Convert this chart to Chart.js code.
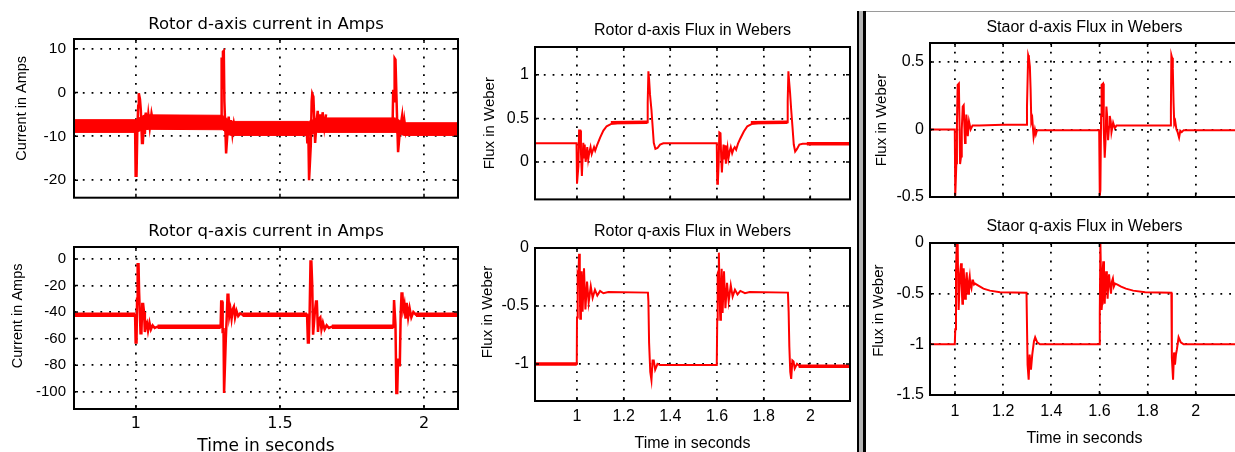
<!DOCTYPE html>
<html>
<head>
<meta charset="utf-8">
<script src="https://cdn.jsdelivr.net/npm/chart.js@4.4.0/dist/chart.umd.min.js"></script>
<style>
  body { margin: 0; width: 1235px; height: 452px; overflow: hidden; background: #fff; position: relative; }
  canvas { position: absolute; }
  #divider { position: absolute; left: 857px; top: 11px; width: 4px; height: 441px;
             background: #b4b4b4; border-left: 2px solid #000; border-right: 3px solid #000; }
  #topRule { position: absolute; left: 866px; top: 11px; width: 369px; height: 1px; background: #9a9a9a; }
</style>
</head>
<body>
<canvas id="rotorId" width="470" height="215" style="left:0;top:0"></canvas>
<canvas id="rotorIq" width="470" height="250" style="left:0;top:215px"></canvas>
<canvas id="rotorPsiD" width="385" height="215" style="left:470px;top:0"></canvas>
<canvas id="rotorPsiQ" width="385" height="250" style="left:470px;top:215px"></canvas>
<div id="divider"></div>
<div id="topRule"></div>
<canvas id="statorPsiD" width="380" height="215" style="left:868px;top:0"></canvas>
<canvas id="statorPsiQ" width="380" height="250" style="left:868px;top:215px"></canvas>
<script>
// ---- rotor d-axis current (A): ripple band edges and switching transients ----
const idBandTime = [0.785, 1.0, 1.03, 1.30, 1.33, 1.60, 1.63, 1.90, 1.93, 2.118];
const idBandHigh = [-6.2, -6.2, -5.1, -5.2, -6.6, -6.6, -5.8, -5.8, -6.9, -6.9];
const idBandLow  = [-9.1, -9.1, -8.4, -8.5, -9.8, -9.8, -9.1, -9.1, -9.8, -9.8];
const idSpikeTime = [
  0.997, 0.999, 1.002, 1.005, 1.008, 1.010, 1.014, 1.017, 1.021, 1.024, 1.027, 1.031, 1.034, 1.038, 1.043, 1.048, 1.054, 1.06, 1.1,
  1.296, 1.2975, 1.300, 1.302, 1.305, 1.307, 1.310, 1.313, 1.316, 1.319, 1.322, 1.326, 1.330, 1.335, 1.340, 1.346, 1.4,
  1.592, 1.595, 1.598, 1.601, 1.604, 1.607, 1.610, 1.612, 1.616, 1.619, 1.622, 1.625, 1.628, 1.631, 1.635, 1.639, 1.644, 1.648, 1.654, 1.66, 1.7,
  1.891, 1.893, 1.896, 1.898, 1.901, 1.904, 1.907, 1.910, 1.913, 1.916, 1.920, 1.924, 1.928, 1.932, 1.937, 1.943
];
const idSpikeVal = [
  -7.5, -19, -19, -8, -3, -0.2, -1.5, -4, -11.5, -11.5, -7, -9.5, -4.6, -8.5, -5, -8, -4.8, -7, null,
  -7, 8, 1, 9.3, 9.5, -2, -7.5, -13.9, -13.9, -8, -5.5, -9.8, -6.3, -9.5, -7, -9, null,
  -7.5, -11.6, -7, -20, -20, -12, -2, -0.3, -1, -6, -11.5, -11.5, -6, -4.2, -9, -5, -8.5, -4.5, -8, -5, null,
  -7, 0.6, -2, 7.8, 7.5, 0, -7, -13.6, -13.6, -9, -7, -5.3, -9.5, -6.5, -9, -7.5
];

// ---- rotor q-axis current (A) ----
const iqTime = [
  0.785, 0.997, 0.999, 1.002, 1.004, 1.006, 1.009, 1.011, 1.014, 1.016, 1.019, 1.022, 1.025, 1.028, 1.031, 1.034, 1.038, 1.042, 1.047, 1.052, 1.058, 1.065, 1.075,
  1.294, 1.296, 1.299, 1.301, 1.304, 1.306, 1.309, 1.312, 1.315, 1.318, 1.321, 1.324, 1.328, 1.332, 1.336, 1.340, 1.344, 1.349, 1.355, 1.362, 1.37,
  1.594, 1.597, 1.600, 1.603, 1.606, 1.609, 1.612, 1.615, 1.618, 1.621, 1.625, 1.628, 1.632, 1.636, 1.640, 1.644, 1.649, 1.655, 1.662, 1.67, 1.68,
  1.894, 1.896, 1.899, 1.901, 1.904, 1.907, 1.910, 1.913, 1.916, 1.919, 1.922, 1.925, 1.928, 1.932, 1.936, 1.940, 1.945, 1.950, 1.956, 1.963, 1.972, 2.118
];
const iqVal = [
  -42, -42, -63, -63, -30, -4, -4, -25, -25, -56, -56, -34, -34, -40, -55, -50, -48, -54, -48, -53, -50, -52, -51,
  -51, -32, -32, -56, -52, -101, -101, -60, -45, -27, -27, -43, -38, -45, -38, -36, -44, -39, -43, -41, -42,
  -42, -63, -63, -40, -2, -2, -20, -57, -57, -40, -32, -32, -55, -45, -44, -53, -48, -53, -50, -52, -51,
  -51, -31, -31, -50, -101, -101, -75, -80, -80, -42, -26, -26, -38, -34, -45, -33, -44, -37, -44, -40, -42, -42
];
const iqLevelTime = [0.785, 0.997, 0.997, 1.075, 1.294, 1.294, 1.37, 1.594, 1.594, 1.68, 1.894, 1.894, 1.972, 2.118];
const iqLevelVal  = [-42, -42, null, -51, -51, null, -42, -42, null, -51, -51, null, -42, -42];

// ---- rotor d-axis flux (Wb) ----
const psiRdTime = [
  0.82, 0.998, 1.0, 1.003, 1.006, 1.009, 1.014, 1.017, 1.021, 1.024, 1.027, 1.030, 1.033, 1.037, 1.041, 1.044, 1.048, 1.052, 1.058, 1.063, 1.069, 1.073, 1.078,
  1.087, 1.099, 1.113, 1.127, 1.149, 1.199, 1.302, 1.303, 1.306, 1.309, 1.313, 1.319, 1.323, 1.329, 1.336, 1.345, 1.356, 1.37, 1.599,
  1.601, 1.604, 1.607, 1.610, 1.615, 1.618, 1.621, 1.625, 1.628, 1.631, 1.635, 1.638, 1.642, 1.645, 1.649, 1.654, 1.659, 1.665, 1.671, 1.676, 1.682,
  1.69, 1.70, 1.715, 1.73, 1.752, 1.80, 1.902, 1.903, 1.906, 1.909, 1.913, 1.918, 1.923, 1.929, 1.935, 1.943, 1.953, 1.967, 2.17
];
const psiRdVal = [
  0.215, 0.215, -0.25, -0.25, -0.05, 0.36, 0.36, 0.1, -0.16, 0.05, 0.22, 0.05, 0.2, 0.0, 0.08, 0.17, 0.03, 0.1, 0.17, 0.09, 0.14, 0.17, 0.13,
  0.2, 0.28, 0.36, 0.41, 0.44, 0.455, 0.455, 0.68, 1.04, 0.95, 0.77, 0.6, 0.45, 0.22, 0.15, 0.16, 0.2, 0.215, 0.215,
  -0.25, -0.22, -0.02, 0.34, 0.33, 0.05, -0.12, 0.08, 0.2, 0.03, 0.19, -0.02, 0.1, 0.16, 0.04, 0.12, 0.17, 0.1, 0.15, 0.17, 0.14,
  0.21, 0.27, 0.35, 0.41, 0.44, 0.455, 0.455, 0.7, 1.04, 0.93, 0.8, 0.6, 0.42, 0.2, 0.12, 0.15, 0.2, 0.21, 0.21
];
const psiRdRippleTime = [1.145, 1.302, 1.302, 1.745, 1.902, 1.902, 1.985, 2.17];
const psiRdRippleVal  = [0.45, 0.455, null, 0.45, 0.455, null, 0.21, 0.21];

// ---- rotor q-axis flux (Wb) ----
const psiRqTime = [
  0.82, 0.999, 1.0, 1.003, 1.006, 1.009, 1.012, 1.014, 1.017, 1.020, 1.024, 1.030, 1.036, 1.043, 1.05, 1.059, 1.067, 1.077, 1.087, 1.099, 1.113, 1.134,
  1.304, 1.306, 1.309, 1.314, 1.319, 1.324, 1.329, 1.335, 1.345, 1.356, 1.599,
  1.601, 1.603, 1.606, 1.608, 1.611, 1.614, 1.617, 1.620, 1.624, 1.630, 1.636, 1.643, 1.65, 1.659, 1.667, 1.677, 1.688, 1.70, 1.72, 1.74,
  1.904, 1.907, 1.910, 1.914, 1.918, 1.923, 1.928, 1.933, 1.943, 1.955, 2.17
];
const psiRqVal = [
  -1.0, -1.0, -0.6, -0.23, -0.25, -0.05, -0.35, -0.61, -0.4, -0.2, -0.55, -0.175, -0.53, -0.29, -0.47, -0.33, -0.43, -0.36, -0.41, -0.37, -0.39, -0.38,
  -0.385, -0.46, -0.82, -1.07, -1.14, -0.97, -0.97, -1.05, -1.0, -1.01, -1.01,
  -0.62, -0.22, -0.2, -0.04, -0.4, -0.62, -0.35, -0.18, -0.56, -0.2, -0.52, -0.3, -0.46, -0.32, -0.42, -0.36, -0.4, -0.37, -0.39, -0.38,
  -0.385, -0.55, -0.85, -1.07, -1.13, -0.97, -0.98, -1.04, -1.0, -1.02, -1.02
];
const psiRqRippleTime = [0.82, 0.999, 0.999, 1.95, 2.17];
const psiRqRippleVal  = [-1.0, -1.0, null, -1.02, -1.02];

// ---- stator d-axis flux (Wb) ----
const psiSdTime = [
  0.896, 0.999, 1.001, 1.003, 1.0055, 1.008, 1.011, 1.016, 1.019, 1.021, 1.025, 1.028, 1.032, 1.036, 1.039, 1.0415, 1.044, 1.047, 1.05, 1.053, 1.058, 1.065, 1.073,
  1.1, 1.2, 1.296, 1.299, 1.302, 1.304, 1.307, 1.311, 1.314, 1.317, 1.321, 1.3265, 1.332, 1.336, 1.34, 1.347, 1.599,
  1.6015, 1.604, 1.607, 1.609, 1.615, 1.618, 1.622, 1.625, 1.629, 1.632, 1.636, 1.64, 1.643, 1.647, 1.65, 1.657, 1.664, 1.671,
  1.75, 1.895, 1.897, 1.899, 1.902, 1.905, 1.908, 1.911, 1.915, 1.92, 1.925, 1.931, 1.936, 1.942, 1.95, 2.18
];
const psiSdVal = [
  0.0, 0.0, -0.49, -0.49, -0.25, 0.05, 0.33, 0.34, 0.0, -0.256, -0.2, 0.0, 0.17, 0.18, 0.02, -0.1, -0.05, 0.11, 0.05, -0.05, 0.06, 0.0, 0.03,
  0.03, 0.035, 0.035, 0.166, 0.4, 0.55, 0.53, 0.465, 0.3, 0.055, 0.08, -0.057, 0.0, -0.035, -0.01, -0.005, -0.005,
  -0.49, -0.45, 0.1, 0.33, 0.34, 0.0, -0.21, -0.1, 0.17, 0.1, -0.08, 0.02, 0.1, 0.06, -0.02, 0.05, 0.01, 0.03,
  0.03, 0.03, 0.15, 0.55, 0.53, 0.45, 0.2, 0.04, 0.06, 0.0, -0.02, -0.06, -0.01, -0.02, -0.005, -0.005
];

// ---- stator q-axis flux (Wb) ----
const psiSqTime = [
  0.896, 0.999, 1.001, 1.004, 1.007, 1.011, 1.013, 1.015, 1.018, 1.021, 1.025, 1.028, 1.0305, 1.033, 1.036, 1.039, 1.0415, 1.045, 1.0485, 1.051, 1.054, 1.058,
  1.061, 1.064, 1.068, 1.072, 1.075, 1.079, 1.083, 1.097, 1.118, 1.145, 1.187, 1.297, 1.3015, 1.306, 1.31, 1.3155, 1.321, 1.328, 1.333, 1.3415, 1.353, 1.6,
  1.6015, 1.604, 1.606, 1.609, 1.611, 1.613, 1.616, 1.619, 1.622, 1.625, 1.628, 1.631, 1.634, 1.637, 1.64, 1.644, 1.648, 1.652, 1.656, 1.66, 1.665, 1.675,
  1.69, 1.71, 1.74, 1.79, 1.899, 1.901, 1.906, 1.91, 1.914, 1.918, 1.922, 1.929, 1.938, 1.95, 2.18
];
const psiSqVal = [
  -1.0, -1.0, -0.85, -0.3, 0.0, 0.0, -0.4, -0.66, -0.45, -0.3, -0.2, -0.45, -0.6, -0.4, -0.25, -0.42, -0.55, -0.4, -0.29, -0.42, -0.5, -0.38,
  -0.33, -0.42, -0.45, -0.37, -0.37, -0.41, -0.4, -0.42, -0.45, -0.47, -0.485, -0.49, -1.2, -1.35, -1.1, -1.25, -1.1, -0.97, -0.93, -0.98, -1.0, -1.0,
  -0.7, 0.0, 0.0, -0.66, -0.6, -0.3, -0.18, -0.45, -0.6, -0.4, -0.28, -0.4, -0.55, -0.4, -0.31, -0.42, -0.5, -0.38, -0.35, -0.43, -0.4, -0.41,
  -0.43, -0.45, -0.47, -0.485, -0.49, -1.13, -1.35, -1.08, -1.2, -1.1, -1.05, -0.93, -0.98, -1.0, -1.0
];

const RED = '#ff0000';
const xy = (t, v) => t.map((x, i) => ({ x, y: v[i] }));
const fmt = v => String(Number(v.toFixed(2)));

// box round the axes with inward tick marks on all four sides
const frame = {
  id: 'frame',
  afterDraw(chart) {
    const { ctx, chartArea: a, scales: { x, y } } = chart;
    ctx.save();
    ctx.strokeStyle = '#000';
    ctx.lineWidth = 1.5;
    ctx.beginPath();
    x.ticks.forEach(t => {
      const p = x.getPixelForValue(t.value);
      ctx.moveTo(p, a.top); ctx.lineTo(p, a.top + 4);
      ctx.moveTo(p, a.bottom); ctx.lineTo(p, a.bottom - 4);
    });
    y.ticks.forEach(t => {
      const p = y.getPixelForValue(t.value);
      ctx.moveTo(a.left, p); ctx.lineTo(a.left + 4, p);
      ctx.moveTo(a.right, p); ctx.lineTo(a.right - 4, p);
    });
    ctx.stroke();
    ctx.lineWidth = 2;
    ctx.strokeRect(a.left, a.top, a.right - a.left, a.bottom - a.top);
    ctx.restore();
  }
};

function drawPanel(id, c) {
  const grid = { color: '#000', lineWidth: 1.8, drawTicks: false };
  const border = { display: false, dash: [1.8, 7] };
  // leading blanks lift the rotated y label a little above the axis centre
  const yLabel = ' '.repeat(c.yTitleLift || 0) + c.yTitle;
  return new Chart(document.getElementById(id), {
    type: 'line',
    data: { datasets: c.datasets },
    options: {
      responsive: false,
      animation: false,
      events: [],
      layout: { padding: { right: c.padRight } },
      elements: { point: { radius: 0 }, line: { tension: 0, borderColor: RED } },
      plugins: {
        legend: { display: false },
        tooltip: { enabled: false },
        title: { display: true, text: c.title, fullSize: false, color: '#000', font: c.titleFont, padding: c.titlePad }
      },
      scales: {
        x: {
          type: 'linear', min: c.xRange[0], max: c.xRange[1],
          afterFit: s => { s.height = c.xHeight; },
          ticks: { display: !!c.xTitle, stepSize: c.xStep, includeBounds: false, autoSkip: false, maxRotation: 0,
                   color: '#000', font: c.xTickFont, padding: c.xTickPad, callback: fmt },
          grid, border,
          title: { display: !!c.xTitle, text: c.xTitle, color: '#000', font: c.xTitleFont, padding: { top: 0, bottom: c.xTitlePad } }
        },
        y: {
          type: 'linear', min: c.yRange[0], max: c.yRange[1],
          afterFit: s => { s.width = c.yWidth; },
          ticks: { stepSize: c.yStep, includeBounds: false, autoSkip: false,
                   color: '#000', font: c.yTickFont, padding: c.yTickPad, callback: fmt },
          grid, border,
          title: { display: true, text: yLabel, color: '#000', font: c.yTitleFont, padding: { top: c.yTitlePad, bottom: 0 } }
        }
      }
    },
    plugins: [frame]
  });
}

const dejavu = size => ({ family: 'DejaVu Sans', size, weight: 'normal' });
const arial = size => ({ family: 'Liberation Sans', size, weight: 'normal' });

drawPanel('rotorId', {
  title: 'Rotor d-axis current in Amps', titleFont: dejavu(16.5), titlePad: { top: 14.6, bottom: 4.6 },
  xRange: [0.785, 2.118], xStep: 0.5, xHeight: 13,
  yRange: [-24, 12.2], yStep: 10, yWidth: 74, yTickFont: arial(15.5), yTickPad: 8,
  yTitle: 'Current in Amps', yTitleFont: arial(14.5), yTitlePad: 13.3, yTitleLift: 5, padRight: 12,
  datasets: [
    { data: xy(idBandTime, idBandHigh), borderColor: RED, backgroundColor: RED, borderWidth: 1, fill: '+1' },
    { data: xy(idBandTime, idBandLow), borderColor: RED, borderWidth: 1, fill: false },
    { data: xy(idSpikeTime, idSpikeVal), borderColor: RED, borderWidth: 2.5, fill: false, spanGaps: false }
  ]
});

drawPanel('rotorIq', {
  title: 'Rotor q-axis current in Amps', titleFont: dejavu(16.5), titlePad: { top: 6.4, bottom: 5.8 },
  xRange: [0.785, 2.118], xStep: 0.5, xHeight: 56, xTickFont: dejavu(16), xTickPad: 4.9,
  xTitle: 'Time in seconds', xTitleFont: dejavu(17), xTitlePad: 8.1,
  yRange: [-113, 9], yStep: 20, yWidth: 74, yTickFont: arial(15), yTickPad: 8,
  yTitle: 'Current in Amps', yTitleFont: arial(14.5), yTitlePad: 9.3, yTitleLift: 6, padRight: 12,
  datasets: [
    { data: xy(iqLevelTime, iqLevelVal), borderColor: RED, borderWidth: 4.5, fill: false, spanGaps: false },
    { data: xy(iqTime, iqVal), borderColor: RED, borderWidth: 2.5, fill: false }
  ]
});

drawPanel('rotorPsiD', {
  title: 'Rotor d-axis Flux in Webers', titleFont: arial(16), titlePad: { top: 20.9, bottom: 6.9 },
  xRange: [0.82, 2.17], xStep: 0.2, xHeight: 14,
  yRange: [-0.43, 1.32], yStep: 0.5, yWidth: 65, yTickFont: arial(16), yTickPad: 6,
  yTitle: 'Flux in Weber', yTitleFont: arial(15), yTitlePad: 11, padRight: 5,
  datasets: [
    { data: xy(psiRdRippleTime, psiRdRippleVal), borderColor: RED, borderWidth: 3.5, fill: false, spanGaps: false },
    { data: xy(psiRdTime, psiRdVal), borderColor: RED, borderWidth: 2, fill: false }
  ]
});

drawPanel('rotorPsiQ', {
  title: 'Rotor q-axis Flux in Webers', titleFont: arial(16), titlePad: { top: 6.7, bottom: 7.1 },
  xRange: [0.82, 2.17], xStep: 0.2, xHeight: 64, xTickFont: arial(16), xTickPad: 5.5,
  xTitle: 'Time in seconds', xTitleFont: arial(16), xTitlePad: 11.9,
  yRange: [-1.32, 0], yStep: 0.5, yWidth: 65, yTickFont: arial(16), yTickPad: 6,
  yTitle: 'Flux in Weber', yTitleFont: arial(15), yTitlePad: 9, yTitleLift: 6, padRight: 5,
  datasets: [
    { data: xy(psiRqRippleTime, psiRqRippleVal), borderColor: RED, borderWidth: 3.5, fill: false, spanGaps: false },
    { data: xy(psiRqTime, psiRqVal), borderColor: RED, borderWidth: 2, fill: false }
  ]
});

drawPanel('statorPsiD', {
  title: 'Staor d-axis Flux in Webers', titleFont: arial(16), titlePad: { top: 18.1, bottom: 5.7 },
  xRange: [0.896, 2.18], xStep: 0.2, xHeight: 18,
  yRange: [-0.5, 0.64], yStep: 0.5, yWidth: 62, yTickFont: arial(16), yTickPad: 6,
  yTitle: 'Flux in Weber', yTitleFont: arial(15), yTitlePad: 5, padRight: 9,
  datasets: [
    { data: xy(psiSdTime, psiSdVal), borderColor: RED, borderWidth: 2, fill: false }
  ]
});

drawPanel('statorPsiQ', {
  title: 'Staor q-axis Flux in Webers', titleFont: arial(16), titlePad: { top: 1.9, bottom: 6.9 },
  xRange: [0.896, 2.18], xStep: 0.2, xHeight: 70, xTickFont: arial(16), xTickPad: 6.5,
  xTitle: 'Time in seconds', xTitleFont: arial(16), xTitlePad: 16.7,
  yRange: [-1.5, 0], yStep: 0.5, yWidth: 62, yTickFont: arial(16), yTickPad: 6,
  yTitle: 'Flux in Weber', yTitleFont: arial(15), yTitlePad: 2, yTitleLift: 4, padRight: 9,
  datasets: [
    { data: xy(psiSqTime, psiSqVal), borderColor: RED, borderWidth: 2, fill: false }
  ]
});
</script>
</body>
</html>
